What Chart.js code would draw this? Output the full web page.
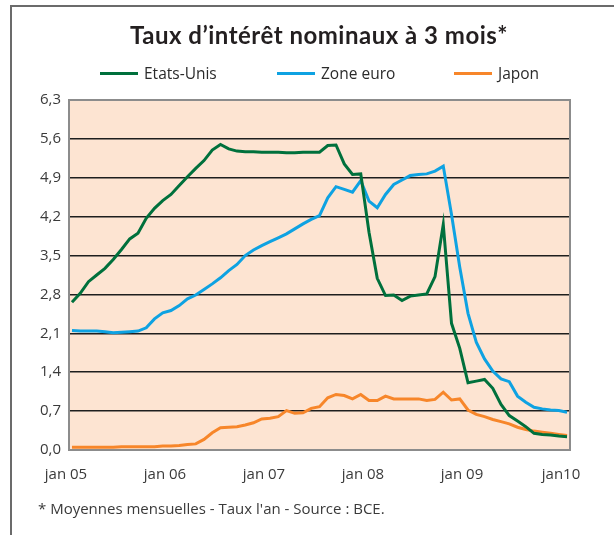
<!DOCTYPE html>
<html lang="fr">
<head>
    <meta charset="UTF-8">
    <title>Taux d'intérêt nominaux à 3 mois</title>
    <script src="https://cdn.jsdelivr.net/npm/chart.js"></script>
    <style>
        body {
            margin: 0;
            background: #fff;
        }
        .wrap {
            position: relative;
            width: 614px;
            height: 535px;
        }
        #title {
            position: absolute;
            left: 319px;
            top: 20px;
            transform: translateX(-50%);
            white-space: nowrap;
            font-family: Lato, sans-serif;
            font-weight: bold;
            font-size: 24px;
            letter-spacing: 0.5px;
            color: #231f20;
        }
        #legend {
            position: absolute;
            left: 100px;
            top: 63px;
            display: flex;
            font-family: "Open Sans", sans-serif;
            font-size: 15.5px;
            color: #2b2b2b;
        }
        #legend .item {
            width: 177px;
            display: flex;
            align-items: center;
            height: 20px;
        }
        #legend .swatch {
            width: 38px;
            height: 3px;
            margin-right: 6px;
        }
    </style>
</head>
<body>
<div class="wrap">
    <canvas id="rates" width="614" height="535"></canvas>
    <div id="title">Taux d’intérêt nominaux à 3 mois*</div>
    <div id="legend"></div>
</div>
<script>
    // monthly averages, jan 2005 -> jan 2010
    const monthNames = ["jan", "fév", "mar", "avr", "mai", "juin", "juil", "août", "sep", "oct", "nov", "déc"];
    const periods = [];
    for (let y = 5; y <= 10; y++) {
        for (let m = 0; m < 12; m++) {
            if (y === 10 && m > 0) break;
            periods.push(monthNames[m] + " " + String(y).padStart(2, "0"));
        }
    }

    const xTickLabels = ["jan 05", "jan 06", "jan 07", "jan 08", "jan 09", "jan10"];
    const yTicks = [0, 0.7, 1.4, 2.1, 2.8, 3.5, 4.2, 4.9, 5.6, 6.3];

    const usRates = [
        2.66, 2.82, 3.03, 3.15, 3.27, 3.43, 3.61, 3.80, 3.90, 4.17, 4.35, 4.49,
        4.60, 4.76, 4.92, 5.07, 5.21, 5.40, 5.50, 5.42, 5.38, 5.37, 5.37, 5.36,
        5.36, 5.36, 5.35, 5.35, 5.36, 5.36, 5.36, 5.48, 5.49, 5.15, 4.96, 4.97,
        3.92, 3.09, 2.78, 2.79, 2.69, 2.77, 2.79, 2.81, 3.12, 4.06, 2.28, 1.83,
        1.21, 1.24, 1.27, 1.11, 0.82, 0.62, 0.52, 0.42, 0.30, 0.28, 0.27, 0.25,
        0.24
    ];
    const euroRates = [
        2.15, 2.14, 2.14, 2.14, 2.13, 2.11, 2.12, 2.13, 2.14, 2.20, 2.36, 2.47,
        2.51, 2.60, 2.72, 2.79, 2.89, 2.99, 3.10, 3.23, 3.34, 3.50, 3.60, 3.68,
        3.75, 3.82, 3.89, 3.98, 4.07, 4.15, 4.22, 4.54, 4.74, 4.69, 4.64, 4.85,
        4.48, 4.36, 4.60, 4.78, 4.86, 4.94, 4.96, 4.97, 5.02, 5.11, 4.24, 3.29,
        2.46, 1.94, 1.64, 1.42, 1.28, 1.23, 0.97, 0.86, 0.77, 0.74, 0.72, 0.71,
        0.68
    ];
    const japanRates = [
        0.05, 0.05, 0.05, 0.05, 0.05, 0.05, 0.06, 0.06, 0.06, 0.06, 0.06, 0.07,
        0.07, 0.08, 0.10, 0.11, 0.19, 0.31, 0.40, 0.41, 0.42, 0.45, 0.49, 0.56,
        0.57, 0.60, 0.71, 0.66, 0.67, 0.75, 0.78, 0.94, 1.00, 0.98, 0.92, 1.00,
        0.89, 0.89, 0.97, 0.92, 0.92, 0.92, 0.92, 0.89, 0.91, 1.04, 0.90, 0.92,
        0.72, 0.64, 0.60, 0.55, 0.51, 0.47, 0.41, 0.37, 0.34, 0.32, 0.30, 0.28,
        0.26
    ];

    const toPoints = arr => arr.map((v, i) => ({ x: i, y: v }));

    // white page, frame lines and the peach plot background
    const backdrop = {
        id: "backdrop",
        beforeDraw(chart) {
            const { ctx, chartArea: a } = chart;
            ctx.save();
            ctx.fillStyle = "#fff";
            ctx.fillRect(0, 0, chart.width, chart.height);
            ctx.strokeStyle = "#6b6b6b";
            ctx.lineWidth = 2;
            ctx.beginPath();
            ctx.moveTo(11, chart.height);
            ctx.lineTo(11, 6);
            ctx.lineTo(chart.width, 6);
            ctx.stroke();
            ctx.fillStyle = "#fde4d2";
            ctx.fillRect(a.left, a.top, a.right - a.left, a.bottom - a.top);
            ctx.restore();
        },
        afterDatasetsDraw(chart) {
            const { ctx, chartArea: a } = chart;
            ctx.save();
            ctx.strokeStyle = "#8c8c8c";
            ctx.lineWidth = 2;
            ctx.strokeRect(a.left, a.top, a.right - a.left, a.bottom - a.top);
            ctx.restore();
        }
    };

    const chart = new Chart(document.getElementById("rates"), {
        type: "line",
        data: {
            labels: periods,
            datasets: [
                { label: "Etats-Unis", data: toPoints(usRates), borderColor: "#00703c", backgroundColor: "#00703c" },
                { label: "Zone euro", data: toPoints(euroRates), borderColor: "#0ea2e2", backgroundColor: "#0ea2e2" },
                { label: "Japon", data: toPoints(japanRates), borderColor: "#f7862a", backgroundColor: "#f7862a" }
            ]
        },
        options: {
            responsive: false,
            animation: false,
            layout: { padding: { left: 38, right: 44, top: 100, bottom: 0 } },
            elements: {
                line: { borderWidth: 3, tension: 0 },
                point: { radius: 0 }
            },
            plugins: {
                legend: { display: false },
                tooltip: { enabled: false },
                title: { display: false },
                subtitle: {
                    display: true,
                    position: "bottom",
                    align: "start",
                    text: "* Moyennes mensuelles - Taux l'an - Source : BCE.",
                    font: { family: "Open Sans", size: 15 },
                    color: "#3a3a3a",
                    padding: { top: 16, bottom: 16 }
                }
            },
            scales: {
                x: {
                    type: "linear",
                    min: -0.36,
                    max: 60.36,
                    grid: { display: false },
                    border: { display: false },
                    afterBuildTicks: s => { s.ticks = [0, 12, 24, 36, 48, 60].map(v => ({ value: v })); },
                    afterFit: s => { s.height = 35; },
                    ticks: {
                        autoSkip: false,
                        maxRotation: 0,
                        padding: 8,
                        labelOffset: -6,
                        color: "#3a3a3a",
                        font: { family: "Open Sans", size: 15 },
                        callback: v => xTickLabels[v / 12]
                    }
                },
                y: {
                    min: 0,
                    max: 6.3,
                    afterBuildTicks: s => { s.ticks = yTicks.map(v => ({ value: v })); },
                    afterFit: s => { s.width = 31; },
                    border: { display: false },
                    grid: {
                        drawTicks: false,
                        lineWidth: 1.5,
                        color: c => (c.tick && (c.tick.value === 0 || c.tick.value === 6.3)) ? "rgba(0,0,0,0)" : "#1e1e1e"
                    },
                    ticks: {
                        padding: 8,
                        color: "#3a3a3a",
                        font: { family: "Open Sans", size: 15 },
                        callback: v => v.toFixed(1).replace(".", ",")
                    }
                }
            }
        },
        plugins: [backdrop]
    });

    // legend built from the datasets
    const legendBox = document.getElementById("legend");
    chart.data.datasets.forEach(ds => {
        const item = document.createElement("div");
        item.className = "item";
        const sw = document.createElement("span");
        sw.className = "swatch";
        sw.style.background = ds.borderColor;
        const txt = document.createElement("span");
        txt.textContent = ds.label;
        item.appendChild(sw);
        item.appendChild(txt);
        legendBox.appendChild(item);
    });
</script>
</body>
</html>
